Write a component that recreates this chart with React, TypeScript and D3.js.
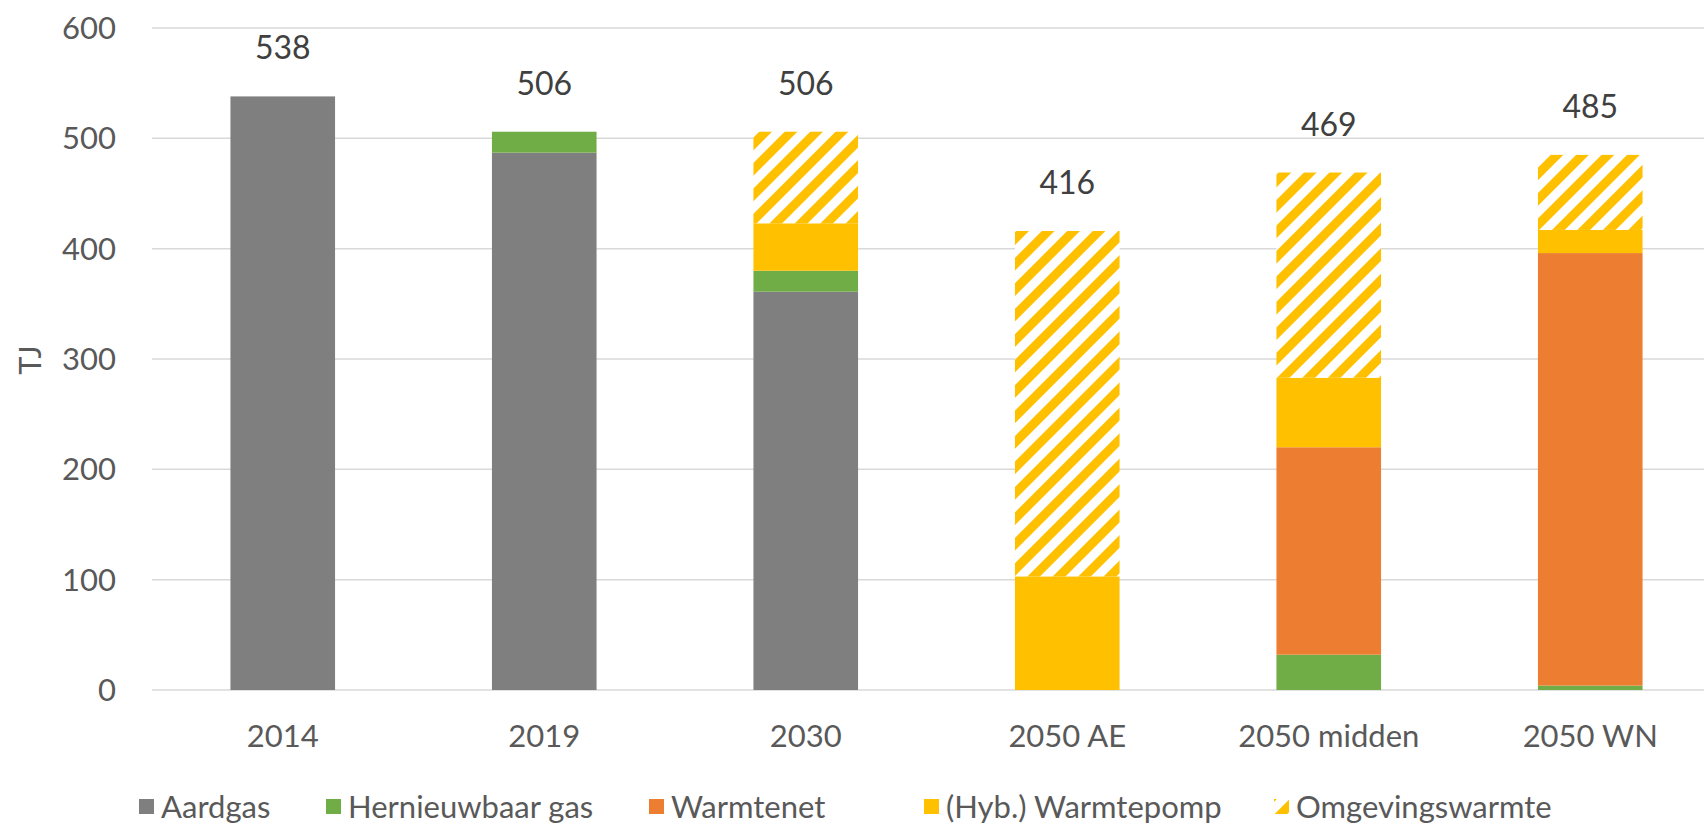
import { useEffect, useRef } from "react";
import * as d3 from "d3";

const categories = ["2014", "2019", "2030", "2050 AE", "2050 midden", "2050 WN"];
const aardgas = [538, 487, 361, 0, 0, 0];
const hernieuwbaarGas = [0, 19, 19, 0, 32, 4];
const warmtenet = [0, 0, 0, 0, 188, 392];
const warmtepomp = [0, 0, 43, 103, 63, 21];
const omgevingswarmte = [0, 0, 83, 313, 186, 68];
const yTicks = [0, 100, 200, 300, 400, 500, 600];

const seriesNames = ["Aardgas", "Hernieuwbaar gas", "Warmtenet", "(Hyb.) Warmtepomp", "Omgevingswarmte"];
const seriesValues = [aardgas, hernieuwbaarGas, warmtenet, warmtepomp, omgevingswarmte];
const seriesColors = ["#7f7f7f", "#70ad47", "#ed7d31", "#ffc000", "url(#hatch)"];
// legend entry left edges, as placed in the original
const legendX = [139, 326, 649, 924, 1274];

const W = 1704;
const H = 830;
const FONT = "Lato, 'Open Sans', sans-serif";
const FS = "31px";

const App = () => {
  const svgRef = useRef<SVGSVGElement>(null);

  useEffect(() => {
    const svg = d3.select(svgRef.current);
    svg.selectAll("*").remove();

    // hatch pattern for Omgevingswarmte
    const defs = svg.append("defs");
    const pat = defs
      .append("pattern")
      .attr("id", "hatch")
      .attr("patternUnits", "userSpaceOnUse")
      .attr("width", 18)
      .attr("height", 18)
      .attr("patternTransform", "rotate(45)");
    pat.append("rect").attr("width", 18).attr("height", 18).attr("fill", "#fff");
    pat.append("rect").attr("width", 9).attr("height", 18).attr("fill", "#ffc000");

    const table = categories.map((c, i) => {
      const row: any = { cat: c };
      seriesNames.forEach((s, j) => (row[s] = seriesValues[j][i]));
      return row;
    });
    const stacked = d3.stack<any>().keys(seriesNames)(table);
    const totals = categories.map((_, i) => d3.sum(seriesValues, (v) => v[i]));

    const x = d3
      .scaleBand()
      .domain(categories)
      .range([152, 1721])
      .paddingInner(0.6)
      .paddingOuter(0.3);
    const y = d3.scaleLinear().domain([0, 600]).range([690, 28]);

    // gridlines
    svg
      .append("g")
      .selectAll("line")
      .data(yTicks)
      .enter()
      .append("line")
      .attr("x1", 152)
      .attr("x2", 1721)
      .attr("y1", (d) => y(d))
      .attr("y2", (d) => y(d))
      .attr("stroke", "#d9d9d9")
      .attr("stroke-width", 1.5);

    // y tick labels
    svg
      .append("g")
      .selectAll("text")
      .data(yTicks)
      .enter()
      .append("text")
      .attr("x", 116)
      .attr("y", (d) => y(d))
      .attr("dy", "0.36em")
      .attr("text-anchor", "end")
      .style("font-family", FONT)
      .style("font-size", FS)
      .attr("fill", "#595959")
      .text((d) => d);

    svg
      .append("text")
      .attr("transform", "translate(41,360) rotate(-90)")
      .attr("text-anchor", "middle")
      .style("font-family", FONT)
      .style("font-size", FS)
      .attr("fill", "#595959")
      .text("TJ");

    // bars
    stacked.forEach((layer, j) => {
      svg
        .append("g")
        .selectAll("rect")
        .data(layer)
        .enter()
        .append("rect")
        .attr("x", (d: any) => x(d.data.cat)!)
        .attr("width", x.bandwidth())
        .attr("y", (d) => y(d[1]))
        .attr("height", (d) => y(d[0]) - y(d[1]))
        .attr("fill", seriesColors[j]);
    });

    // total labels
    svg
      .append("g")
      .selectAll("text")
      .data(categories)
      .enter()
      .append("text")
      .attr("x", (d) => x(d)! + x.bandwidth() / 2)
      .attr("y", (d, i) => y(totals[i]) - 37)
      .attr("text-anchor", "middle")
      .style("font-family", FONT)
      .style("font-size", "32px")
      .attr("fill", "#404040")
      .text((d, i) => totals[i]);

    // x labels
    svg
      .append("g")
      .selectAll("text")
      .data(categories)
      .enter()
      .append("text")
      .attr("x", (d) => x(d)! + x.bandwidth() / 2)
      .attr("y", 747)
      .attr("text-anchor", "middle")
      .style("font-family", FONT)
      .style("font-size", FS)
      .attr("fill", "#595959")
      .text((d) => d);

    // legend
    const legend = svg.append("g");
    seriesNames.forEach((name, j) => {
      const g = legend.append("g").attr("transform", `translate(${legendX[j]},0)`);
      g.append("rect")
        .attr("x", 0)
        .attr("y", 799)
        .attr("width", 15)
        .attr("height", 15)
        .attr("fill", seriesColors[j]);
      g.append("text")
        .attr("x", 22)
        .attr("y", 818)
        .style("font-family", FONT)
        .style("font-size", FS)
        .attr("fill", "#595959")
        .text(name);
    });
  }, []);

  return (
    <svg
      ref={svgRef}
      width={W}
      height={H}
      style={{ position: "absolute", left: 0, top: 0, background: "#fff" }}
    />
  );
};

export default App;
